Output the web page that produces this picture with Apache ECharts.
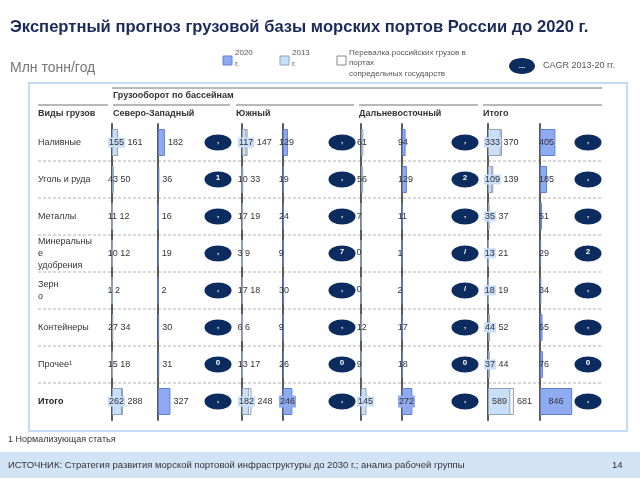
<!DOCTYPE html>
<html><head><meta charset="utf-8">
<script src="https://cdn.jsdelivr.net/npm/echarts@6/dist/echarts.min.js"></script>
<style>html,body{margin:0;padding:0;background:#fff}#c{width:640px;height:480px}</style>
</head><body><div id="c"></div>
<script>
// ---- data ----
const categories = ["Наливные","Уголь и руда","Металлы","Минеральные удобрения","Зерно","Контейнеры","Прочее¹","Итого"];
const rowTickLabels = ["Наливные","Уголь и руда","Металлы","Минеральны\nе\nудобрения","Зерн\nо","Контейнеры","Прочее¹","Итого"];
const basinNames = ["Северо-Западный","Южный","Дальневосточный","Итого"];
const nwRu2013  = [155, 43, 11, 10, 1, 27, 15, 262];
const nwAll2013 = [161, 50, 12, 12, 2, 34, 18, 288];
const nw2020    = [182, 36, 16, 19, 2, 30, 31, 327];
const sRu2013   = [117, 10, 17, 3, 17, 6, 13, 182];
const sAll2013  = [147, 33, 19, 9, 18, 6, 17, 248];
const s2020     = [129, 19, 24, 9, 30, 9, 26, 246];
const feRu2013  = [61, 56, 7, 0, 0, 12, 9, 145];
const fe2020    = [94, 129, 11, 1, 2, 17, 18, 272];
const itRu2013  = [333, 109, 35, 13, 18, 44, 37, 589];
const itAll2013 = [370, 139, 37, 21, 19, 52, 44, 681];
const it2020    = [405, 185, 51, 29, 34, 65, 76, 846];
const cagrNW = [",", "1", ",", ",", ",", ",", "0", ","];
const cagrS  = [",", ",", ",", "7", ",", ",", "0", ","];
const cagrFE = [",", "2", ",", "/", "/", ",", "0", ","];
const cagrIT = [",", ",", ",", "2", ",", ",", "0", ","];

// ---- layout ----
const FONT = "Liberation Sans, Arial, sans-serif";
const TOP = 124, ROWH = 37, NROW = categories.length, GH = ROWH * NROW;
const GW = 38, XMAX = 1000; // 0.038 px per unit
const BW = 27;
const C2020 = '#8eaaf0', C2020B = '#5f80d6', C2013 = '#c9def7', C2013B = '#8fa6bf';
const basins = [
  {ru: nwRu2013, all: nwAll2013, y20: nw2020, cagr: cagrNW, x13: 112, x20: 158, xe: 218, hx: 113, hEnd: 230},
  {ru: sRu2013, all: sAll2013, y20: s2020, cagr: cagrS, x13: 242, x20: 283, xe: 342, hx: 236, hEnd: 354},
  {ru: feRu2013, all: null, y20: fe2020, cagr: cagrFE, x13: 361, x20: 402, xe: 465, hx: 359, hEnd: 478},
  {ru: itRu2013, all: itAll2013, y20: it2020, cagr: cagrIT, x13: 488, x20: 540, xe: 588, hx: 483, hEnd: 602}
];

const grid = [], xAxis = [], yAxis = [], series = [];
basins.forEach((b, bi) => {
  [b.x13, b.x20].forEach((x, k) => {
    const gi = grid.length;
    grid.push({left: x, top: TOP, width: GW, height: GH});
    xAxis.push({gridIndex: gi, type: 'value', min: 0, max: XMAX, show: false});
    yAxis.push({gridIndex: gi, type: 'category', data: categories, inverse: true, z: 0,
      axisLine: {show: true, lineStyle: {color: '#5a5a5a', width: 2}},
      axisTick: {show: false}, splitLine: {show: false},
      axisLabel: gi === 0 ? {show: true, interval: 0, align: 'left', margin: 74, fontSize: 9,
        fontFamily: FONT, color: '#333', lineHeight: 12,
        formatter: (v, i) => i === NROW - 1 ? '{b|' + rowTickLabels[i] + '}' : rowTickLabels[i],
        rich: {b: {fontWeight: 'bold', fontSize: 9, fontFamily: FONT, color: '#222'}}} : {show: false}
    });
  });
  const g13 = bi * 2, g20 = bi * 2 + 1;
  const isIt = bi === 3;
  if (b.all) {
    series.push({type: 'bar', xAxisIndex: g13, yAxisIndex: g13, barWidth: BW, barGap: '-100%',
      data: b.all, silent: true, animation: false,
      itemStyle: {color: '#fff', borderColor: '#999', borderWidth: 1}});
  }
  series.push({type: 'bar', xAxisIndex: g13, yAxisIndex: g13, barWidth: BW, barGap: '-100%',
    animation: false,
    data: b.ru.map((v, i) => {
      const item = {value: v};
      if (isIt && i === NROW - 1) item.label = {position: [4, BW / 2]};
      return item;
    }),
    itemStyle: {color: C2013, borderColor: C2013B, borderWidth: 1},
    label: {show: true, position: [-4, BW / 2], align: 'left', verticalAlign: 'middle',
      fontFamily: FONT, fontSize: 9, color: '#333',
      formatter: p => {
        const i = p.dataIndex, ru = b.ru[i];
        const hl = (isIt || ru >= 100) && !(isIt && i === NROW - 1);
        let s = '{' + (hl ? 'h' : 'n') + '|' + ru + '}';
        if (b.all) s += (isIt && i === NROW - 1 ? '    ' : ' ') + '{n|' + b.all[i] + '}';
        return s;
      },
      rich: {
        n: {fontFamily: FONT, fontSize: 9, color: '#333'},
        h: {fontFamily: FONT, fontSize: 9, color: '#333', backgroundColor: C2013, padding: [1, 1, 0, 1]}
      }}
  });
  series.push({type: 'bar', xAxisIndex: g20, yAxisIndex: g20, barWidth: BW, animation: false,
    data: b.y20.map((v, i) => {
      const item = {value: v};
      if (isIt && i === NROW - 1) item.label = {position: 'inside', align: 'center'};
      else if ((bi === 1 || bi === 2) && i === NROW - 1) item.label = {backgroundColor: C2020, padding: [2, 1, 1, 1]};
      return item;
    }),
    itemStyle: {color: C2020, borderColor: C2020B, borderWidth: 1},
    label: bi === 0 ? {show: true, position: 'right', distance: 3, fontFamily: FONT, fontSize: 9, color: '#333'}
      : {show: true, position: [isIt ? -1 : -4, BW / 2], align: 'left', verticalAlign: 'middle',
         fontFamily: FONT, fontSize: 9, color: '#333'}
  });
});
// CAGR ellipses
basins.forEach((b, bi) => {
  const gi = grid.length;
  grid.push({left: b.xe - 20, top: TOP, width: 40, height: GH});
  xAxis.push({gridIndex: gi, type: 'value', min: 0, max: 1, show: false});
  yAxis.push({gridIndex: gi, type: 'category', data: categories, inverse: true, show: false});
  series.push({type: 'scatter', xAxisIndex: gi, yAxisIndex: gi, symbol: 'circle', symbolSize: [27, 16],
    animation: false, itemStyle: {color: '#0c2b5e', opacity: 1},
    data: b.cagr.map((c, i) => [0.5, i]),
    label: {show: true, position: 'inside', offset: [0, -2], color: '#fff', fontSize: 8, fontWeight: 'bold',
      fontFamily: FONT, formatter: p => b.cagr[p.dataIndex]}
  });
});

// decorations
const graphic = [];
graphic.push({type: 'rect', shape: {x: 29, y: 83, width: 598, height: 348}, style: {fill: '#fff', stroke: '#c6dcf4', lineWidth: 2}, z: -10});
graphic.push({type: 'rect', shape: {x: 0, y: 452, width: 640, height: 26}, style: {fill: '#d3e3f6'}, z: -10});
const T = (x, y, text, o) => graphic.push(Object.assign({type: 'text', x: x, y: y,
  style: Object.assign({text: text, fontFamily: FONT, fontSize: 9, fill: '#333', verticalAlign: 'middle'}, o || {})}));
T(10, 27, 'Экспертный прогноз грузовой базы морских портов России до 2020 г.', {fontSize: 16.6, fontWeight: 'bold', fill: '#1b2a5a'});
T(10, 68, 'Млн тонн/год', {fontSize: 14, fill: '#777'});
// legend
graphic.push({type: 'rect', shape: {x: 223, y: 56, width: 9, height: 9}, style: {fill: C2020, stroke: C2020B, lineWidth: 1}});
T(235, 58, '2020\nг.', {fontSize: 8, fill: '#555', lineHeight: 11});
graphic.push({type: 'rect', shape: {x: 280, y: 56, width: 9, height: 9}, style: {fill: C2013, stroke: C2013B, lineWidth: 1}});
T(292, 58, '2013\nг.', {fontSize: 8, fill: '#555', lineHeight: 11});
graphic.push({type: 'rect', shape: {x: 337, y: 56, width: 9, height: 9}, style: {fill: '#fff', stroke: '#888', lineWidth: 1}});
T(349, 63, 'Перевалка российских грузов в\nпортах\nсопредельных государств', {fontSize: 8, fill: '#555', lineHeight: 10.5});
graphic.push({type: 'ellipse', shape: {cx: 522, cy: 66, rx: 13, ry: 8}, style: {fill: '#0c2b5e'}});
T(522, 66, '...', {fontSize: 8, fill: '#fff', align: 'center', fontWeight: 'bold'});
T(543, 66, 'CAGR 2013-20 гг.', {fontSize: 9, fill: '#555'});
// header
const L = (x1, y1, x2, y2, o) => graphic.push({type: 'line', shape: {x1: x1, y1: y1, x2: x2, y2: y2},
  style: Object.assign({stroke: '#a0a0a0', lineWidth: 1.5}, o || {})});
L(112, 88, 602, 88);
T(113, 96, 'Грузооборот по бассейнам', {fontWeight: 'bold', fontSize: 9, fill: '#333'});
L(38, 105, 108, 105);
T(38, 114, 'Виды грузов', {fontWeight: 'bold', fontSize: 9, fill: '#333'});
basins.forEach((b, bi) => {
  L(b.hx, 105, b.hEnd, 105);
  T(b.hx, 114, basinNames[bi], {fontWeight: 'bold', fontSize: 9, fill: '#333'});
});
for (let k = 1; k < NROW; k++) {
  L(38, TOP + ROWH * k, 602, TOP + ROWH * k, {stroke: '#b0b0b0', lineWidth: 1, lineDash: [3, 2]});
}
T(8, 440, '1 Нормализующая статья', {fontSize: 9, fill: '#333'});
T(8, 465, 'ИСТОЧНИК: Стратегия развития морской портовой инфраструктуры до 2030 г.; анализ рабочей группы', {fontSize: 9.5, fill: '#333'});
T(612, 465, '14', {fontSize: 9.5, fill: '#333'});

const chart = echarts.init(document.getElementById('c'), null, {renderer: 'canvas'});
chart.setOption({animation: false, backgroundColor: '#fff', grid, xAxis, yAxis, series, graphic});
</script>
</body></html>
